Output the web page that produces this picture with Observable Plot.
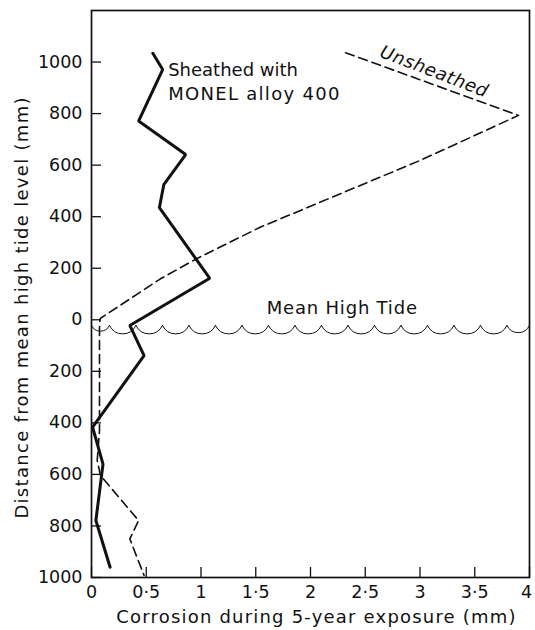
<!DOCTYPE html>
<html>
<head>
<meta charset="utf-8">
<script src="https://cdn.jsdelivr.net/npm/d3@7"></script>
<script src="https://cdn.jsdelivr.net/npm/@observablehq/plot@0.6"></script>
<style>
  body { margin: 0; background: #fff; }
  #chart svg { font-family: "DejaVu Sans", sans-serif; }
</style>
</head>
<body>
<div id="chart"></div>
<script>
// Sheathed with MONEL alloy 400 (solid line)
const sheathedX = [0.56, 0.65, 0.43, 0.86, 0.66, 0.62, 1.08, 0.35, 0.48, 0.01, 0.105, 0.04, 0.17];
const sheathedY = [1034, 971, 771, 641, 524, 435, 161, -22, -139, -417, -560, -779, -960];

// Unsheathed (dashed line)
const unsheathedX = [2.32, 3.90, 3.00, 1.54, 0.96, 0.63, 0.08, 0.073, 0.073, 0.052, 0.082, 0.43, 0.35, 0.48];
const unsheathedY = [1036, 793, 618, 359, 237, 159, 5, -14, -430, -546, -604, -779, -850, -992];

// Axis ticks
const xTicks = [0, 0.5, 1, 1.5, 2, 2.5, 3, 3.5, 4];
const yTicks = [-1000, -800, -600, -400, -200, 0, 200, 400, 600, 800, 1000];

// Mean high tide wavy line: cusp positions
const tideCuspsX = [0, 0.164, 0.406, 0.648, 0.89, 1.132, 1.374, 1.616, 1.858, 2.10, 2.342, 2.584, 2.826, 3.068, 3.31, 3.552, 3.794, 4.0];
const tideY = -22;

// Texts
const xTitle = "Corrosion during 5-year exposure (mm)";
const yTitle = "Distance from mean high tide level (mm)";
const sheathedLines = ["Sheathed with", "MONEL alloy 400"];
const sheathedLabelX = 0.70;
const sheathedLabelY = [970, 877];
const tideLabel = {text: "Mean High Tide", x: 2.29, y: 44};
const unshLabel = {text: "Unsheathed", x: 3.13, y: 963};
const yTitlePos = {x: 0, y: 48};

const W = 535, H = 630, mL = 91, mR = 6, mT = 10, mB = 53;
const frameW = W - mL - mR, frameH = H - mT - mB;

const sheathed = sheathedX.map((x, i) => ({x, y: sheathedY[i]}));
const unsheathed = unsheathedX.map((x, i) => ({x, y: unsheathedY[i]}));
const tideSegs = tideCuspsX.slice(0, -1).map((x, i) => ({x1: x, x2: tideCuspsX[i + 1], y: tideY}));
const sheathedLabels = sheathedLines.map((t, i) => ({t, x: sheathedLabelX, y: sheathedLabelY[i]}));

const fmtX = d => String(d).replace(".", "\u00B7");
const fmtY = d => String(Math.abs(d));

const chart = Plot.plot({
  width: W, height: H,
  marginLeft: mL, marginRight: mR, marginTop: mT, marginBottom: mB,
  style: {fontFamily: "DejaVu Sans, sans-serif", fontSize: "17.5px", color: "#111", background: "#fff"},
  x: {domain: [0, 4], label: null},
  y: {domain: [-1000, 1200], label: null},
  marks: [
    Plot.axisX(xTicks.slice(0, -1), {tickSize: 0, tickPadding: 8, tickFormat: fmtX, label: null, fontSize: 17.5, fill: "#111"}),
    Plot.axisX(xTicks.slice(-1), {tickSize: 0, tickPadding: 8, tickFormat: fmtX, label: null, fontSize: 17.5, fill: "#111", dx: -3}),
    Plot.axisY(yTicks, {tickSize: 0, tickPadding: 9, tickFormat: fmtY, label: null, fontSize: 17.5, fill: "#111"}),
    Plot.tickX(xTicks, {x: d => d, insetTop: frameH - 10, stroke: "#111", strokeWidth: 1.3}),
    Plot.tickY(yTicks, {y: d => d, insetRight: frameW - 10, stroke: "#111", strokeWidth: 1.3}),
    Plot.frame({stroke: "#111", strokeWidth: 1.7}),
    Plot.arrow(tideSegs, {x1: "x1", x2: "x2", y1: "y", y2: "y", bend: -65, headLength: 0, stroke: "#111", strokeWidth: 1}),
    Plot.line(unsheathed, {x: "x", y: "y", stroke: "#111", strokeWidth: 1.6, strokeDasharray: "9,5"}),
    Plot.line(sheathed, {x: "x", y: "y", stroke: "#111", strokeWidth: 3, strokeLinejoin: "miter"}),
    Plot.text(sheathedLabels, {x: "x", y: "y", text: "t", textAnchor: "start", lineAnchor: "middle", fontSize: 18, fill: "#111"}),
    Plot.text([tideLabel], {x: "x", y: "y", text: "text", textAnchor: "middle", lineAnchor: "middle", fontSize: 18, fill: "#111"}),
    Plot.text([unshLabel], {x: "x", y: "y", text: "text", rotate: 21, fontSize: 18, fontStyle: "italic", fill: "#111"}),
    Plot.text([xTitle], {frameAnchor: "bottom", textAnchor: "middle", lineAnchor: "middle", dy: 40, dx: 6, fontSize: 18, fill: "#111"}),
    Plot.text([yTitlePos], {x: "x", y: "y", text: () => yTitle, textAnchor: "middle", lineAnchor: "middle", dx: -69, rotate: -90, fontSize: 18, fill: "#111"})
  ]
});

document.getElementById("chart").appendChild(chart);
const spacing = {};
spacing[xTitle] = "1.2px";
spacing[yTitle] = "1.3px";
spacing["MONEL alloy 400"] = "1.3px";
spacing["Mean High Tide"] = "0.8px";
spacing["Unsheathed"] = "0.6px";
d3.select(chart).selectAll("text").each(function () {
  const s = spacing[this.textContent];
  if (s) this.style.letterSpacing = s;
});
</script>
</body>
</html>
